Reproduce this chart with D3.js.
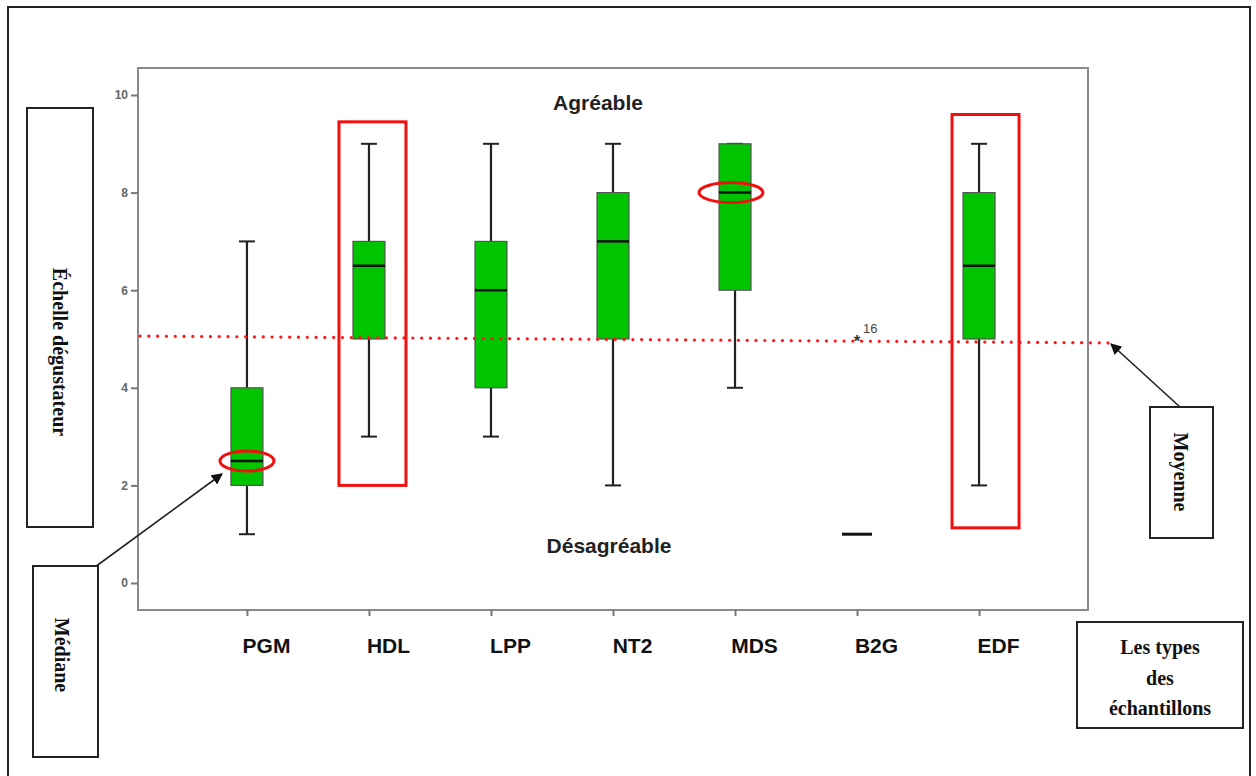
<!DOCTYPE html>
<html><head><meta charset="utf-8">
<script src="https://cdn.jsdelivr.net/npm/d3@7"></script>
<style>
html,body{margin:0;padding:0;background:#fff;}
svg{display:block;}
</style></head>
<body>
<svg id="chart" width="1256" height="776"></svg>
<script>
// ---- data ----
const categories = ["PGM","HDL","LPP","NT2","MDS","B2G","EDF"];
const mins    = [1, 3, 3, 2, 4, 1, 2];
const q1s     = [2, 5, 4, 5, 6, 1, 5];
const medians = [2.5, 6.5, 6, 7, 8, 1, 6.5];
const q3s     = [4, 7, 7, 8, 9, 1, 8];
const maxs    = [7, 9, 9, 9, 9, 1, 9];
const outliers = [{cat:"B2G", value:5, label:"16"}];
const yTicks = [0,2,4,6,8,10];
const meanLine = [5.06, 4.92]; // left / right end values of the dotted "Moyenne" line
const circledMedians = ["PGM","MDS"];
const highlighted = [{cat:"HDL", top:9.45, bottom:2.0},{cat:"EDF", top:9.6, bottom:1.13}];

// ---- layout ----
const svg = d3.select("#chart");
const frame = {l:138, r:1088, t:68, b:610};
const y = d3.scaleLinear().domain([0,10]).range([583,95]);
const x = d3.scalePoint().domain(categories).range([frame.l, frame.r]).padding(0.893);
const boxW = 32, capW = 16;

// outer frame
svg.append("rect").attr("x",8).attr("y",7).attr("width",1242).attr("height",780)
  .attr("fill","none").attr("stroke","#222").attr("stroke-width",2);

// plot frame
svg.append("rect").attr("x",frame.l).attr("y",frame.t).attr("width",frame.r-frame.l).attr("height",frame.b-frame.t)
  .attr("fill","none").attr("stroke","#8a8a8a").attr("stroke-width",2);

// y axis ticks
const yAxis = d3.axisLeft(y).tickValues(yTicks).tickSize(7).tickPadding(3);
const gy = svg.append("g").attr("transform",`translate(${frame.l},0)`).call(yAxis);
gy.select(".domain").remove();
gy.selectAll("line").attr("stroke","#777").attr("stroke-width",2);
gy.selectAll("text").attr("fill","#666").style("font-family","Liberation Sans, Arial, sans-serif")
  .style("font-size","12px").style("font-weight","bold");

// x axis ticks
const xAxis = d3.axisBottom(x).tickSize(6).tickPadding(22);
const gx = svg.append("g").attr("transform",`translate(0,${frame.b})`).call(xAxis);
gx.select(".domain").remove();
gx.selectAll("line").attr("stroke","#777").attr("stroke-width",2);
gx.selectAll("text").attr("fill","#111").attr("dx",19)
  .style("font-family","'Liberation Sans Narrow', 'Liberation Sans', Arial, sans-serif")
  .style("font-size","21px").style("font-weight","bold");

// boxes
const data = categories.map((c,i)=>({cat:c,min:mins[i],q1:q1s[i],med:medians[i],q3:q3s[i],max:maxs[i]}));
const g = svg.append("g");
data.forEach(d=>{
  const cx = x(d.cat);
  if (d.min===d.max) {
    g.append("line").attr("x1",cx-15).attr("x2",cx+15).attr("y1",y(d.med)).attr("y2",y(d.med))
      .attr("stroke","#111").attr("stroke-width",3);
    return;
  }
  g.append("line").attr("x1",cx).attr("x2",cx).attr("y1",y(d.min)).attr("y2",y(d.max))
    .attr("stroke","#222").attr("stroke-width",2.2);
  [d.min,d.max].forEach(v=>g.append("line").attr("x1",cx-capW/2).attr("x2",cx+capW/2)
    .attr("y1",y(v)).attr("y2",y(v)).attr("stroke","#222").attr("stroke-width",2));
  g.append("rect").attr("x",cx-boxW/2).attr("y",y(d.q3)).attr("width",boxW).attr("height",y(d.q1)-y(d.q3))
    .attr("fill","#00c400").attr("stroke","#555").attr("stroke-width",1.2);
  g.append("line").attr("x1",cx-boxW/2).attr("x2",cx+boxW/2).attr("y1",y(d.med)).attr("y2",y(d.med))
    .attr("stroke","#111").attr("stroke-width",2.5);
});

// outliers
outliers.forEach(o=>{
  g.append("text").attr("x",x(o.cat)).attr("y",y(o.value)+8).attr("text-anchor","middle")
    .style("font-family","Liberation Sans, Arial, sans-serif").style("font-size","17px").style("font-weight","bold")
    .attr("fill","#333").text("*");
  g.append("text").attr("x",x(o.cat)+6).attr("y",y(o.value)-6)
    .style("font-family","Liberation Sans, Arial, sans-serif").style("font-size","13px").attr("fill","#444").text(o.label);
});

// Agréable / Désagréable
svg.append("text").attr("x",598).attr("y",110).attr("text-anchor","middle")
  .style("font-family","Liberation Sans, Arial, sans-serif").style("font-size","21px").style("font-weight","bold")
  .attr("fill","#222").text("Agréable");
svg.append("text").attr("x",609).attr("y",553).attr("text-anchor","middle")
  .style("font-family","Liberation Sans, Arial, sans-serif").style("font-size","21px").style("font-weight","bold")
  .attr("fill","#222").text("Désagréable");

// mean dotted line
svg.append("line").attr("x1",frame.l+2).attr("x2",1108).attr("y1",y(meanLine[0])).attr("y2",y(meanLine[1]))
  .attr("stroke","#ff1a1a").attr("stroke-width",3.2).attr("stroke-dasharray","0.1,8.7").attr("stroke-linecap","round");

// red ellipses on medians
circledMedians.forEach(c=>{
  const i = categories.indexOf(c);
  svg.append("ellipse").attr("cx",x(c)-(c==="MDS"?4:0)).attr("cy",y(medians[i]))
    .attr("rx",c==="MDS"?32:27).attr("ry",10)
    .attr("fill","none").attr("stroke","#f01010").attr("stroke-width",3);
});

// red highlight rectangles
highlighted.forEach(h=>{
  const cx = x(h.cat) + (h.cat==="EDF"?7:4);
  svg.append("rect").attr("x",cx-34).attr("y",y(h.top)).attr("width",67).attr("height",y(h.bottom)-y(h.top))
    .attr("fill","none").attr("stroke","#f01010").attr("stroke-width",3);
});

// arrows
const defs = svg.append("defs");
defs.append("marker").attr("id","arr").attr("viewBox","0 0 10 10").attr("refX",9).attr("refY",5)
  .attr("markerWidth",7).attr("markerHeight",7).attr("orient","auto")
  .append("path").attr("d","M0,0L10,5L0,10z").attr("fill","#111");
svg.append("line").attr("x1",95).attr("y1",567).attr("x2",222).attr("y2",474)
  .attr("stroke","#222").attr("stroke-width",1.6).attr("marker-end","url(#arr)");
svg.append("line").attr("x1",1180).attr("y1",407).attr("x2",1111).attr("y2",344)
  .attr("stroke","#222").attr("stroke-width",1.6).attr("marker-end","url(#arr)");

// annotation boxes
function box(x0,y0,w,h){
  svg.append("rect").attr("x",x0).attr("y",y0).attr("width",w).attr("height",h)
    .attr("fill","#fff").attr("stroke","#222").attr("stroke-width",2);
}
function vtext(cx,cy,t){
  svg.append("text").attr("transform",`translate(${cx},${cy}) rotate(90)`).attr("text-anchor","middle")
    .attr("dy","0.35em").style("font-family","'Liberation Serif','Times New Roman',serif")
    .style("font-size","20px").style("font-weight","bold").attr("fill","#111").text(t);
}
box(27,108,66,419); vtext(60,352,"Échelle dégustateur");
box(1150,407,63,131); vtext(1181,472,"Moyenne");
box(33,566,65,191); vtext(62,655,"Médiane");
box(1077,622,166,106);
["Les types","des","échantillons"].forEach((t,i)=>{
  svg.append("text").attr("x",1160).attr("y",654+i*30.5).attr("text-anchor","middle")
    .style("font-family","'Liberation Serif','Times New Roman',serif")
    .style("font-size","20px").style("font-weight","bold").attr("fill","#111").text(t);
});
</script>
</body></html>
